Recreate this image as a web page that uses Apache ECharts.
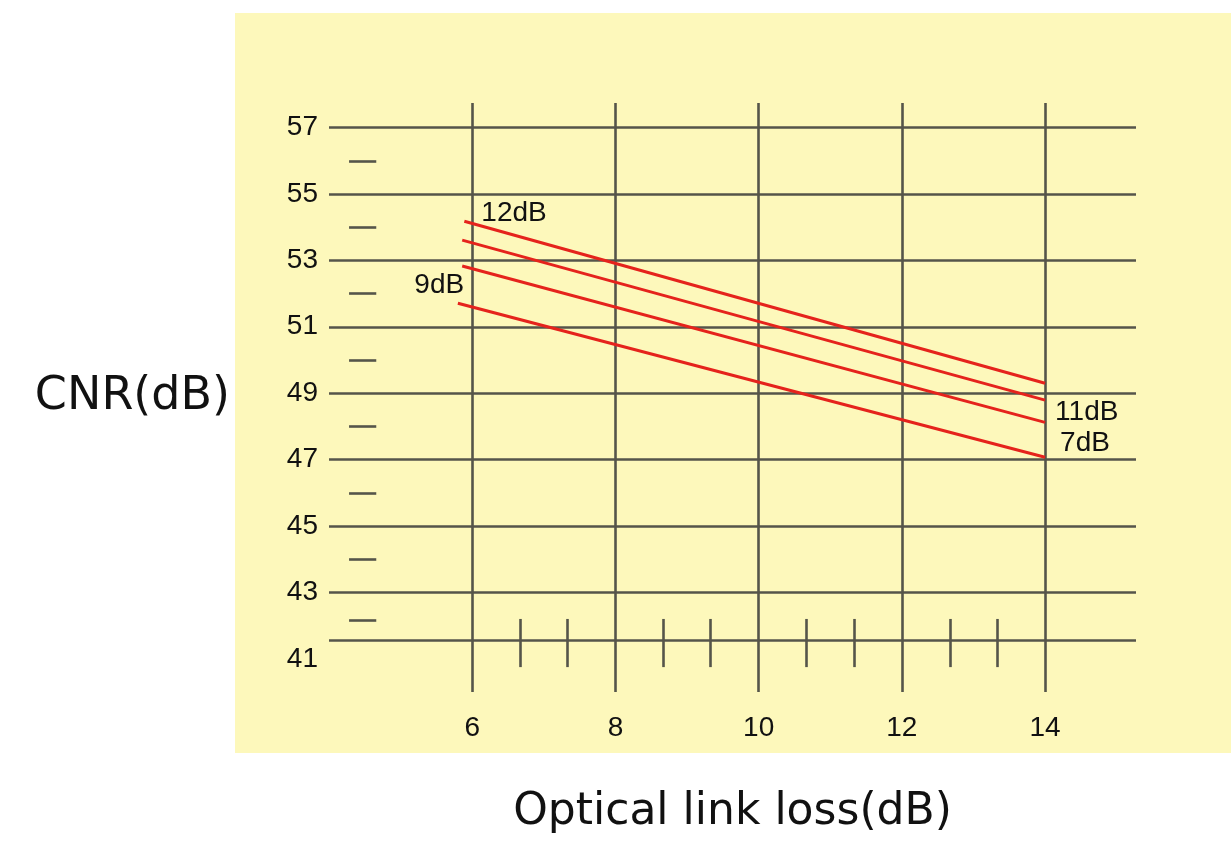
<!DOCTYPE html>
<html>
<head>
<meta charset="utf-8">
<script src="https://cdn.jsdelivr.net/npm/echarts@6/dist/echarts.min.js"></script>
<style>
html,body{margin:0;padding:0;background:#ffffff;}
#chart{width:1231px;height:852px;}
</style>
</head>
<body>
<div id="chart"></div>
<script>
// ---- data ----
var xTickLabels = [6, 8, 10, 12, 14];
var yTickLabels = [41, 43, 45, 47, 49, 51, 53, 55, 57];
var hGridValues = [57, 55, 53, 51, 49, 47, 45, 43, 41.55];
var vGridValues = [6, 8, 10, 12, 14];
var yMinorTicks = [56, 54, 52, 50, 48, 46, 44, 42.15];
var xMinorTicks = [6.67, 7.33, 8.67, 9.33, 10.67, 11.33, 12.67, 13.33];
var curveNames = ['12dB', '11dB', '9dB', '7dB'];
var curveX = [[5.89, 14], [5.86, 14], [5.86, 14], [5.8, 14]];
var curveY = [[54.18, 49.30], [53.61, 48.79], [52.83, 48.12], [51.71, 47.07]];
// which end carries the curve's label (0 = start, 1 = end)
var labelEnd = [0, 1, 0, 1];

var gridColor = '#55554a';
var redColor = '#e5231c';

var labelStyles = [
  {position: 'right', distance: 5, offset: [12, -8]},
  {position: 'right', distance: 5, offset: [5, 12]},
  {position: 'left', distance: 5, offset: [7, 19]},
  {position: 'right', distance: 5, offset: [10, -14]}
];

var curveSeries = curveNames.map(function (name, i) {
  var data = curveX[i].map(function (x, j) {
    var item = {value: [x, curveY[i][j]]};
    if (j === labelEnd[i]) {
      item.label = Object.assign({
        show: true,
        formatter: name,
        color: '#111111',
        fontSize: 28,
        fontFamily: 'Liberation Sans'
      }, labelStyles[i]);
    }
    return item;
  });
  return {
    name: name,
    type: 'line',
    data: data,
    symbol: 'circle',
    symbolSize: 0,
    showSymbol: true,
    lineStyle: {color: redColor, width: 3},
    itemStyle: {color: redColor},
    z: 5,
    silent: true
  };
});

var gridMarks = [];
hGridValues.forEach(function (v) { gridMarks.push({yAxis: v}); });
vGridValues.forEach(function (v) { gridMarks.push({xAxis: v}); });
yMinorTicks.forEach(function (v) {
  gridMarks.push([{coord: [4.28, v]}, {coord: [4.66, v]}]);
});
xMinorTicks.forEach(function (v) {
  gridMarks.push([{coord: [v, 40.75]}, {coord: [v, 42.2]}]);
});

var gridSeries = {
  type: 'line',
  data: [],
  silent: true,
  markLine: {
    silent: true,
    symbol: 'none',
    animation: false,
    label: {show: false},
    lineStyle: {color: gridColor, width: 2.6, type: 'solid'},
    emphasis: {disabled: true},
    data: gridMarks
  },
  z: 2
};

var chart = echarts.init(document.getElementById('chart'));
chart.setOption({
  animation: false,
  backgroundColor: '#ffffff',
  graphic: [{
    type: 'rect',
    shape: {x: 235, y: 13, width: 996, height: 740},
    style: {fill: '#fdf8bb'},
    z: -10,
    silent: true
  }],
  grid: {left: 329, right: 95, top: 103, bottom: 160},
  xAxis: {
    type: 'value',
    min: 4,
    max: 15.27,
    interval: 2,
    name: 'Optical link loss(dB)',
    nameLocation: 'middle',
    nameGap: 99,
    nameTextStyle: {fontSize: 44, fontFamily: 'DejaVu Sans', color: '#111'},
    axisLine: {show: false},
    axisTick: {show: false},
    splitLine: {show: false},
    axisLabel: {
      margin: 22,
      fontSize: 28,
      fontFamily: 'Liberation Sans',
      color: '#111111',
      showMaxLabel: false,
      formatter: function (v) { return xTickLabels.indexOf(v) >= 0 ? String(v) : ''; }
    }
  },
  yAxis: {
    type: 'value',
    min: 40,
    max: 57.74,
    interval: 1,
    name: 'CNR(dB)',
    nameLocation: 'middle',
    nameRotate: 0,
    nameGap: 99,
    nameTextStyle: {fontSize: 46, fontFamily: 'DejaVu Sans', color: '#111', padding: [0, 0, 28, 0]},
    axisLine: {show: false},
    axisTick: {show: false},
    splitLine: {show: false},
    axisLabel: {
      margin: 11,
      fontSize: 28,
      fontFamily: 'Liberation Sans',
      color: '#111111',
      showMaxLabel: false,
      formatter: function (v) { return yTickLabels.indexOf(v) >= 0 ? String(v) : ''; }
    }
  },
  series: [gridSeries].concat(curveSeries)
});
</script>
</body>
</html>
